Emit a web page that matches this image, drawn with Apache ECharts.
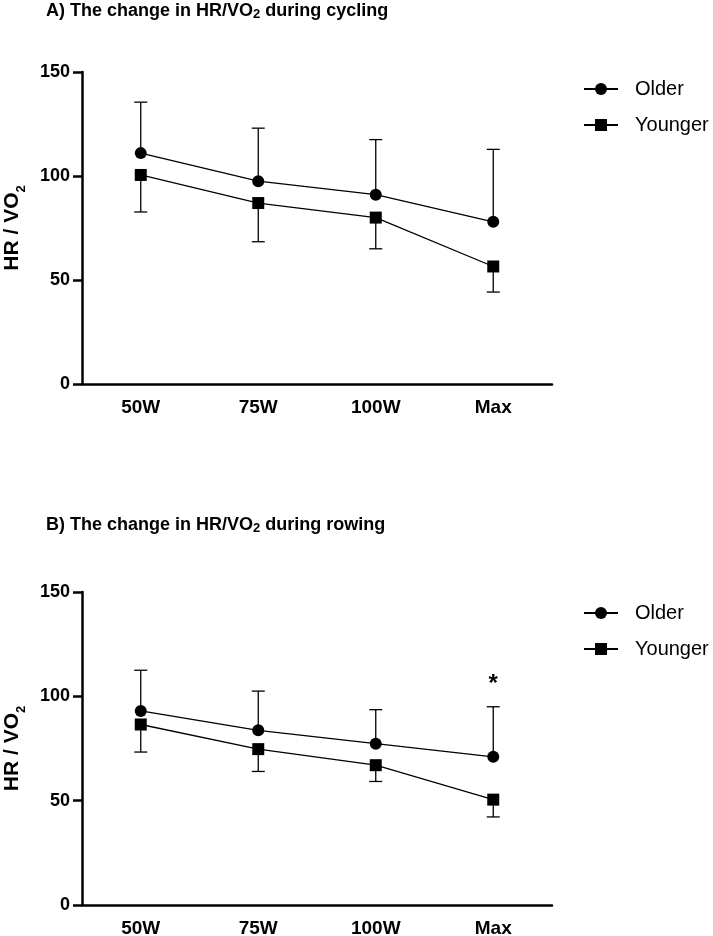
<!DOCTYPE html>
<html><head><meta charset="utf-8">
<script src="https://cdn.jsdelivr.net/npm/echarts@6/dist/echarts.min.js"></script>
<style>html,body{margin:0;padding:0;background:#fff}#c{width:713px;height:936px}</style>
</head><body><div id="c"></div>
<script>
const categories = ['50W', '75W', '100W', 'Max'];
const yTicks = [0, 50, 100, 150];
const cyclingOlder = [111, 97.5, 91, 78];
const cyclingOlderUpper = [135.5, 123, 117.5, 112.8];
const cyclingYounger = [100.5, 87, 80, 56.5];
const cyclingYoungerLower = [82.7, 68.4, 65, 44.2];
const cyclingSig = ['', '', '', ''];
const rowingOlder = [93, 83.7, 77.3, 71];
const rowingOlderUpper = [112.5, 102.5, 93.6, 95];
const rowingYounger = [86.5, 74.7, 67, 50.5];
const rowingYoungerLower = [73.3, 64, 59.2, 42.2];
const rowingSig = ['', '', '', '*'];

const FF = '"Liberation Sans", Arial, Helvetica, sans-serif';
const chart = echarts.init(document.getElementById('c'), null, {renderer: 'canvas'});

function errRender(sig) {
  return function (params, api) {
    const i = api.value(0);
    const p0 = api.coord([i, api.value(1)]);
    const p1 = api.coord([i, api.value(2)]);
    const half = 6.5;
    const style = {stroke: '#000', lineWidth: 1.3};
    const children = [
      {type: 'line', shape: {x1: p0[0], y1: p0[1], x2: p1[0], y2: p1[1]}, style: style},
      {type: 'line', shape: {x1: p1[0] - half, y1: p1[1], x2: p1[0] + half, y2: p1[1]}, style: style}
    ];
    if (sig && sig[i]) {
      children.push({type: 'text', x: p1[0], y: p1[1] - 10,
        style: {text: sig[i], font: 'bold 24px ' + FF, fill: '#000', align: 'center', verticalAlign: 'bottom'}});
    }
    return {type: 'group', children: children};
  };
}

function errData(vals, bounds) {
  return categories.map((c, i) => [i, vals[i], bounds[i]]);
}

function xAxisCfg(gi) {
  return {
    type: 'category', gridIndex: gi, data: categories, boundaryGap: true,
    axisLine: {lineStyle: {color: '#000', width: 2.5}},
    axisTick: {alignWithLabel: true, length: 7, lineStyle: {color: '#000', width: 2.5}},
    axisLabel: {color: '#000', fontWeight: 'bold', fontSize: 19, fontFamily: FF, margin: 14},
    splitLine: {show: false}
  };
}
function yAxisCfg(gi) {
  return {
    type: 'value', gridIndex: gi, min: yTicks[0], max: yTicks[yTicks.length - 1], interval: yTicks[1] - yTicks[0],
    axisLine: {show: true, lineStyle: {color: '#000', width: 2.5}},
    axisTick: {show: true, length: 9, lineStyle: {color: '#000', width: 2.5}},
    axisLabel: {color: '#000', fontWeight: 'bold', fontSize: 18, fontFamily: FF, margin: 12},
    splitLine: {show: false},
    name: '{a|HR / VO}{b|2}', nameLocation: 'middle', nameRotate: 90, nameGap: 58,
    nameTextStyle: {
      rich: {
        a: {fontSize: 21, fontWeight: 'bold', fontFamily: FF, color: '#000', lineHeight: 24},
        b: {fontSize: 13, fontWeight: 'bold', fontFamily: FF, color: '#000', lineHeight: 24, verticalAlign: 'bottom', padding: [0, 0, -4, 0]}
      }
    }
  };
}
function lineSeries(name, gi, data, symbol) {
  return {
    name: name, type: 'line', xAxisIndex: gi, yAxisIndex: gi, data: data,
    symbol: symbol, symbolSize: 12,
    lineStyle: {color: '#000', width: 1.3}, itemStyle: {color: '#000'}, z: 5
  };
}
function errSeries(gi, vals, bounds, sig) {
  return {
    type: 'custom', xAxisIndex: gi, yAxisIndex: gi, data: errData(vals, bounds),
    encode: {x: 0, y: [1, 2]}, renderItem: errRender(sig), z: 3, silent: true
  };
}
const titleRich = {
  t: {fontSize: 18, fontWeight: 'bold', fontFamily: FF, color: '#000', lineHeight: 22},
  s: {fontSize: 13, fontWeight: 'bold', fontFamily: FF, color: '#000', lineHeight: 22, verticalAlign: 'bottom', padding: [0, 0, 1, 0]}
};
function legendCfg(top) {
  return {
    data: ['Older', 'Younger'], orient: 'vertical', left: 583, top: top, padding: 0,
    itemWidth: 34, itemHeight: 15, itemGap: 16,
    textStyle: {fontSize: 20, color: '#000', fontFamily: FF, padding: [0, 0, 0, 12]}
  };
}

chart.setOption({
  animation: false,
  backgroundColor: '#fff',
  title: [
    {text: '{t|A) The change in HR/VO}{s|2}{t| during cycling}', left: 46, top: 0, padding: 0, textStyle: {rich: titleRich}},
    {text: '{t|B) The change in HR/VO}{s|2}{t| during rowing}', left: 46, top: 514, padding: 0, textStyle: {rich: titleRich}}
  ],
  legend: [legendCfg(79), legendCfg(603)],
  grid: [
    {left: 82, top: 72, width: 470, height: 312, outerBoundsMode: 'none', containLabel: false},
    {left: 82, top: 592, width: 470, height: 313, outerBoundsMode: 'none', containLabel: false}
  ],
  xAxis: [xAxisCfg(0), xAxisCfg(1)],
  yAxis: [yAxisCfg(0), yAxisCfg(1)],
  series: [
    errSeries(0, cyclingOlder, cyclingOlderUpper, cyclingSig),
    errSeries(0, cyclingYounger, cyclingYoungerLower, null),
    lineSeries('Older', 0, cyclingOlder, 'circle'),
    lineSeries('Younger', 0, cyclingYounger, 'rect'),
    errSeries(1, rowingOlder, rowingOlderUpper, rowingSig),
    errSeries(1, rowingYounger, rowingYoungerLower, null),
    lineSeries('Older', 1, rowingOlder, 'circle'),
    lineSeries('Younger', 1, rowingYounger, 'rect')
  ]
});
</script>
</body></html>
